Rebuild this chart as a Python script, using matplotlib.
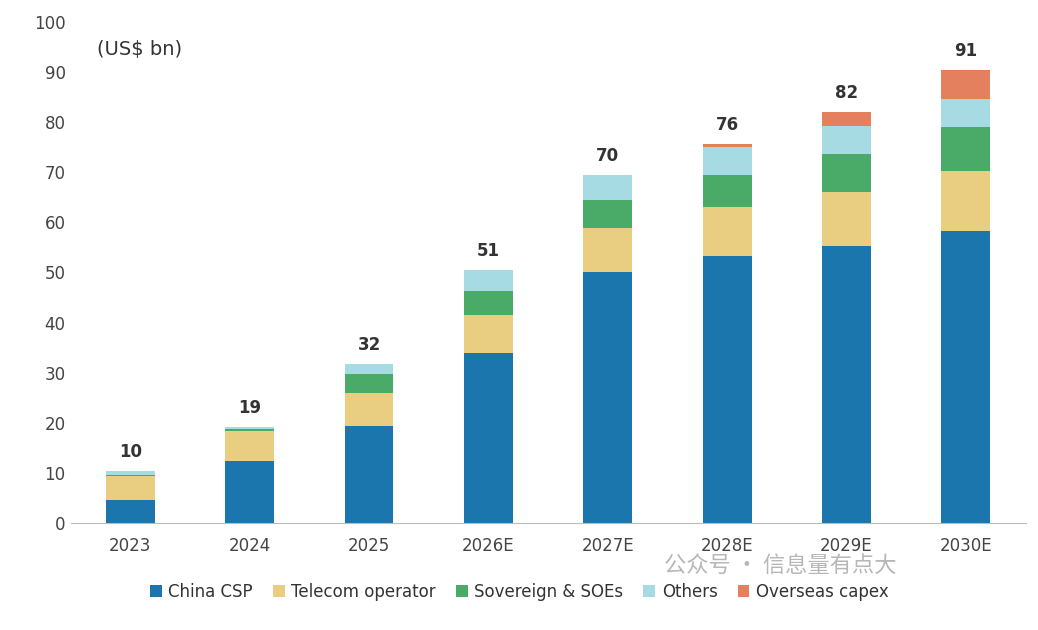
import numpy as np
import matplotlib.pyplot as plt

plt.rcParams['font.family'] = ['DejaVu Sans', 'Noto Sans CJK SC']

years = ['2023', '2024', '2025', '2026E', '2027E', '2028E', '2029E', '2030E']
china_csp = [4.5, 12.4, 19.3, 34.0, 50.0, 53.2, 55.2, 58.2]
telecom = [4.8, 6.0, 6.7, 7.6, 8.8, 9.8, 10.8, 12.0]
sovereign = [0.2, 0.4, 3.8, 4.8, 5.6, 6.4, 7.6, 8.8]
others = [0.8, 0.4, 2.0, 4.0, 5.0, 5.6, 5.6, 5.6]
overseas = [0, 0, 0, 0, 0, 0.6, 2.8, 5.8]
totals = [10, 19, 32, 51, 70, 76, 82, 91]

series = [('China CSP', china_csp, '#1a76ac'),
          ('Telecom operator', telecom, '#e9cd80'),
          ('Sovereign & SOEs', sovereign, '#4aab68'),
          ('Others', others, '#a6dbe3'),
          ('Overseas capex', overseas, '#e5805e')]

fig = plt.figure(figsize=(10.38, 6.3), dpi=100)
ax = fig.add_axes([0.068, 0.17, 0.92, 0.795])
x = np.arange(len(years))
bottom = np.zeros(len(years))
for name, vals, col in series:
    ax.bar(x, vals, 0.41, bottom=bottom, color=col, label=name)
    bottom += np.array(vals)
for xi, t, b in zip(x, totals, bottom):
    ax.text(xi, b + 2, str(t), ha='center', va='bottom', fontsize=12, fontweight='bold', color='#333333')

ax.set_ylim(0, 100)
ax.set_xlim(-0.5, 7.5)
ax.set_yticks(range(0, 101, 10))
ax.set_xticks(x)
ax.set_xticklabels(years)
ax.tick_params(length=0, labelsize=12, colors='#444444')
ax.tick_params(axis='x', pad=10)
for s in ['top', 'right', 'left']:
    ax.spines[s].set_visible(False)
ax.spines['bottom'].set_color('#bbbbbb')
ax.text(-0.28, 94.5, '(US$ bn)', fontsize=14, color='#333333', va='center')

ax.legend(loc='upper center', bbox_to_anchor=(0.47, -0.09), ncol=5, frameon=False,
          fontsize=12, handlelength=0.7, handleheight=0.7, columnspacing=1.2, handletextpad=0.4,
          labelcolor='#333333')
fig.text(0.64, 0.093, '公众号 · 信息量有点大', fontsize=16, color='#999999',
         family=['Noto Sans CJK SC', 'DejaVu Sans'], alpha=0.7)

plt.savefig('out.png', dpi=100)
